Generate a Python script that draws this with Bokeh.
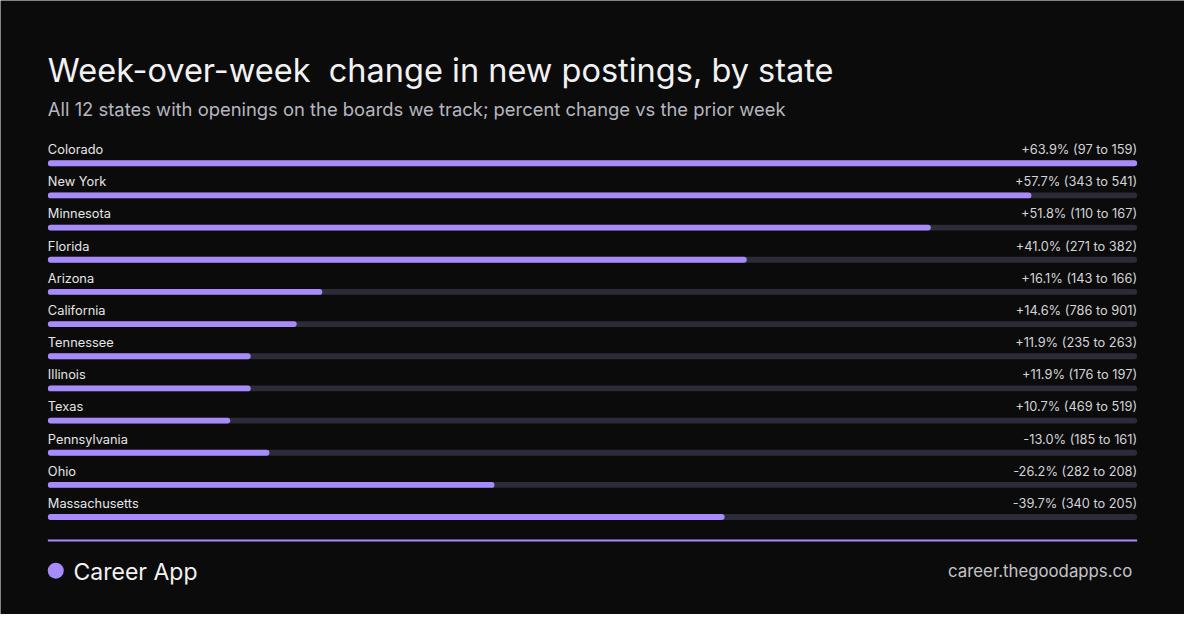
from bokeh.plotting import figure
from bokeh.models import Range1d, ColumnDataSource
from bokeh.core.properties import value
from bokeh.embed import file_html
from bokeh.resources import INLINE

# ---- data ----
states = ["Colorado", "New York", "Minnesota", "Florida", "Arizona", "California",
          "Tennessee", "Illinois", "Texas", "Pennsylvania", "Ohio", "Massachusetts"]
pct_change = [63.9, 57.7, 51.8, 41.0, 16.1, 14.6, 11.9, 11.9, 10.7, -13.0, -26.2, -39.7]
prior_week = [97, 343, 110, 271, 143, 786, 235, 176, 469, 185, 282, 340]
this_week = [159, 541, 167, 382, 166, 901, 263, 197, 519, 161, 208, 205]

title = "Week-over-week\u00a0 change in new postings, by state"
subtitle = "All 12 states with openings on the boards we track; percent change vs the prior week"
brand = "Career App"
url = "career.thegoodapps.co"

# ---- style / layout (layout in reference-canvas pixels, 1200x630) ----
BG = "#0b0b0c"
PURPLE = "#a78bfa"
TRACK = "#2c2b37"
FONT = "Inter"
W, H = 1184, 614
REF_W, REF_H = 1200, 630
LEFT_PX, RIGHT_PX = 48, 1152
ROW0, ROW_STEP = 167, 33
YS = H / REF_H

max_abs = max(abs(v) for v in pct_change)
px_per = (RIGHT_PX - LEFT_PX) / max_abs


def px(x):
    return (x - LEFT_PX) / px_per


def base(y, size):
    # correct for baseline offset of svg text
    return y - 0.3 * size / YS


p = figure(width=W, height=H, output_backend="svg", toolbar_location=None,
           x_range=Range1d(px(0), px(REF_W)), y_range=Range1d(REF_H, 0),
           min_border=0)
p.background_fill_color = BG
p.border_fill_color = BG
p.outline_line_color = None
p.axis.visible = False
p.grid.visible = False

ROW_FS = 12.8
ys = [ROW0 + i * ROW_STEP for i in range(len(states))]
labels = [f"{v:+.1f}% ({a} to {b})" for v, a, b in zip(pct_change, prior_week, this_week)]
src = ColumnDataSource(dict(
    y=ys, ylab=[base(y - 10, ROW_FS) for y in ys], state=states,
    mag=[abs(v) for v in pct_change], full=[max_abs] * len(states), lab=labels))

p.hbar(y="y", left=0, right="full", height=6, source=src, fill_color=TRACK,
       line_color=None, border_radius=3)
p.hbar(y="y", left=0, right="mag", height=6, source=src, fill_color=PURPLE,
       line_color=None, border_radius=3)

p.text(x=0, y="ylab", text="state", source=src, text_font=value(FONT),
       text_font_size=f"{ROW_FS}px", text_color="#e6e6e6", text_baseline="alphabetic",
       text_align="left")
p.text(x=max_abs, y="ylab", text="lab", source=src, text_font=value(FONT),
       text_font_size=f"{ROW_FS}px", text_color="#d4d4d8", text_baseline="alphabetic",
       text_align="right")

# headings
p.text(x=[px(48)], y=[base(82, 32.5)], text=[title], text_font=value(FONT),
       text_font_size="32.5px", text_color="#f2f2f2", text_baseline="alphabetic")
p.text(x=[px(48)], y=[base(117, 18.4)], text=[subtitle], text_font=value(FONT),
       text_font_size="18.4px", text_color="#b6b6bf", text_baseline="alphabetic")

# divider & footer
p.segment(x0=[0], y0=[554], x1=[max_abs], y1=[554], line_color=PURPLE, line_width=2)
p.scatter(x=[px(56)], y=[585], size=16, fill_color=PURPLE, line_color=None)
p.text(x=[px(74)], y=[base(593, 23)], text=[brand], text_font=value(FONT),
       text_font_size="23px", text_color="#f2f2f2", text_baseline="alphabetic")
p.text(x=[px(1147)], y=[base(591, 16.8)], text=[url], text_font=value(FONT),
       text_font_size="16.8px", text_color="#c4c4c8", text_baseline="alphabetic",
       text_align="right")

open("out.html", "w").write(file_html(p, INLINE))
